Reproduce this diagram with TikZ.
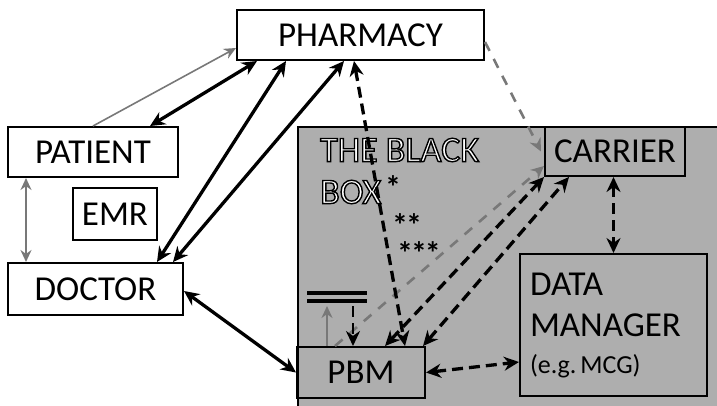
\documentclass[tikz,border=0pt]{standalone}
\usepackage{fontspec}
\setmainfont{Carlito}
\usetikzlibrary{arrows.meta}
\definecolor{boxgray}{RGB}{174,174,174}
\definecolor{linkgray}{RGB}{120,120,120}
% white letters with a black outline
\newcommand{\outlined}[1]{\special{pdf:literal direct 2 Tr 1.4 w 0 G 1 g}#1\special{pdf:literal direct 0 Tr 0 g}}
\tikzset{
  box/.style={draw, line width=2pt, inner sep=0pt, font=\fontsize{35}{41}\selectfont},
  link/.style={line width=3.3pt, <->},
  dlink/.style={link, dash pattern=on 11pt off 6pt},
  glink/.style={line width=1.6pt, draw=linkgray, ->, >={Stealth[length=12pt,width=11pt]}},
  gdlink/.style={line width=2.6pt, draw=linkgray, dash pattern=on 10pt off 9pt, ->, >={Stealth[length=13pt,width=12pt]}},
  stars/.style={font=\fontsize{32}{32}\selectfont\bfseries, inner sep=0pt, anchor=base}
}
\begin{document}
\begin{tikzpicture}[x=1pt, y=-1pt, >={Stealth[length=15pt,width=14pt]}]
  \useasboundingbox (0,0) rectangle (717,405);
  % the black box
  \draw[line width=1.4pt, fill=boxgray] (298,127) rectangle (730,420);
  \node[anchor=north west, align=left, inner sep=0pt,
        font=\fontsize{36}{42}\selectfont] (title) at (320,138)
    {\outlined{THE BLACK}\\\outlined{BOX}};
  \draw
    (393,198) node[stars] (s1){*}
    (407,236) node[stars] (s2){*\kern-2pt*}
    (419,264) node[stars] (s3){*\kern-2pt*\kern-2pt*};
  \draw
    (360.5,35) node[box, minimum width=247pt, minimum height=50pt] (pharm){PHARMACY}
    (93,152) node[box, minimum width=170pt, minimum height=50pt] (patient){PATIENT}
    (115,214) node[box, minimum width=84pt, minimum height=52pt] (emr){EMR}
    (95.5,289) node[box, minimum width=175pt, minimum height=52pt] (doctor){DOCTOR}
    (615,151.5) node[box, minimum width=140pt, minimum height=49pt] (carrier){CARRIER}
    (361,372.5) node[box, minimum width=128pt, minimum height=51pt] (pbm){PBM}
    (613.5,325) node[box, minimum width=187pt, minimum height=142pt, align=left,
       inner xsep=10pt, text width=167pt] (dm)
       {DATA\\MANAGER\\[-4pt]{\fontsize{26}{30}\selectfont (e.g.\kern4pt MCG)}};
  \coordinate (barL) at (327,306);
  \coordinate (barR) at (353,306);
  \draw[line width=3.2pt] (307,293) -- (367,293) (307,301) -- (367,301);
  % gray links
  \begin{scope}
    \draw[glink] (patient.north) to ([yshift=-13pt]pharm.west);
    \draw[glink, <->] ([xshift=19pt]patient.south west) to ([xshift=19pt]doctor.north west);
    \draw[gdlink] ([yshift=-7pt]pharm.east) to ([xshift=-3pt]carrier.west);
    \draw[gdlink] ([xshift=-26pt]pbm.north) to ([yshift=11pt]carrier.south west);
    \draw[glink, line width=2.4pt] ([xshift=-34pt]pbm.north) to (barL);
  \end{scope}
  % black links
  \begin{scope}
    \draw[link] ([xshift=57pt]patient.north) to ([xshift=21pt]pharm.south west);
    \draw[link] ([xshift=61.5pt]doctor.north) to ([xshift=50pt]pharm.south west);
    \draw[link] ([xshift=77.5pt]doctor.north) to ([xshift=108pt]pharm.south west);
    \draw[link] ([yshift=-2pt]doctor.east) to (pbm.west);
    \draw[dlink] ([xshift=118pt]pharm.south west) to ([xshift=44pt]pbm.north);
    \draw[dlink] ([xshift=24pt]pbm.north) to (carrier.south west);
    \draw[dlink] ([xshift=62pt]pbm.north) to ([xshift=25pt]carrier.south west);
    \draw[dlink] (carrier.south -| dm.north) to (dm.north);
    \draw[dlink] (pbm.east) to ([yshift=-37pt]dm.west);
    \draw[dlink, ->, line width=2.4pt] (barR) to ([xshift=-8pt]pbm.north);
  \end{scope}
\end{tikzpicture}
\end{document}
